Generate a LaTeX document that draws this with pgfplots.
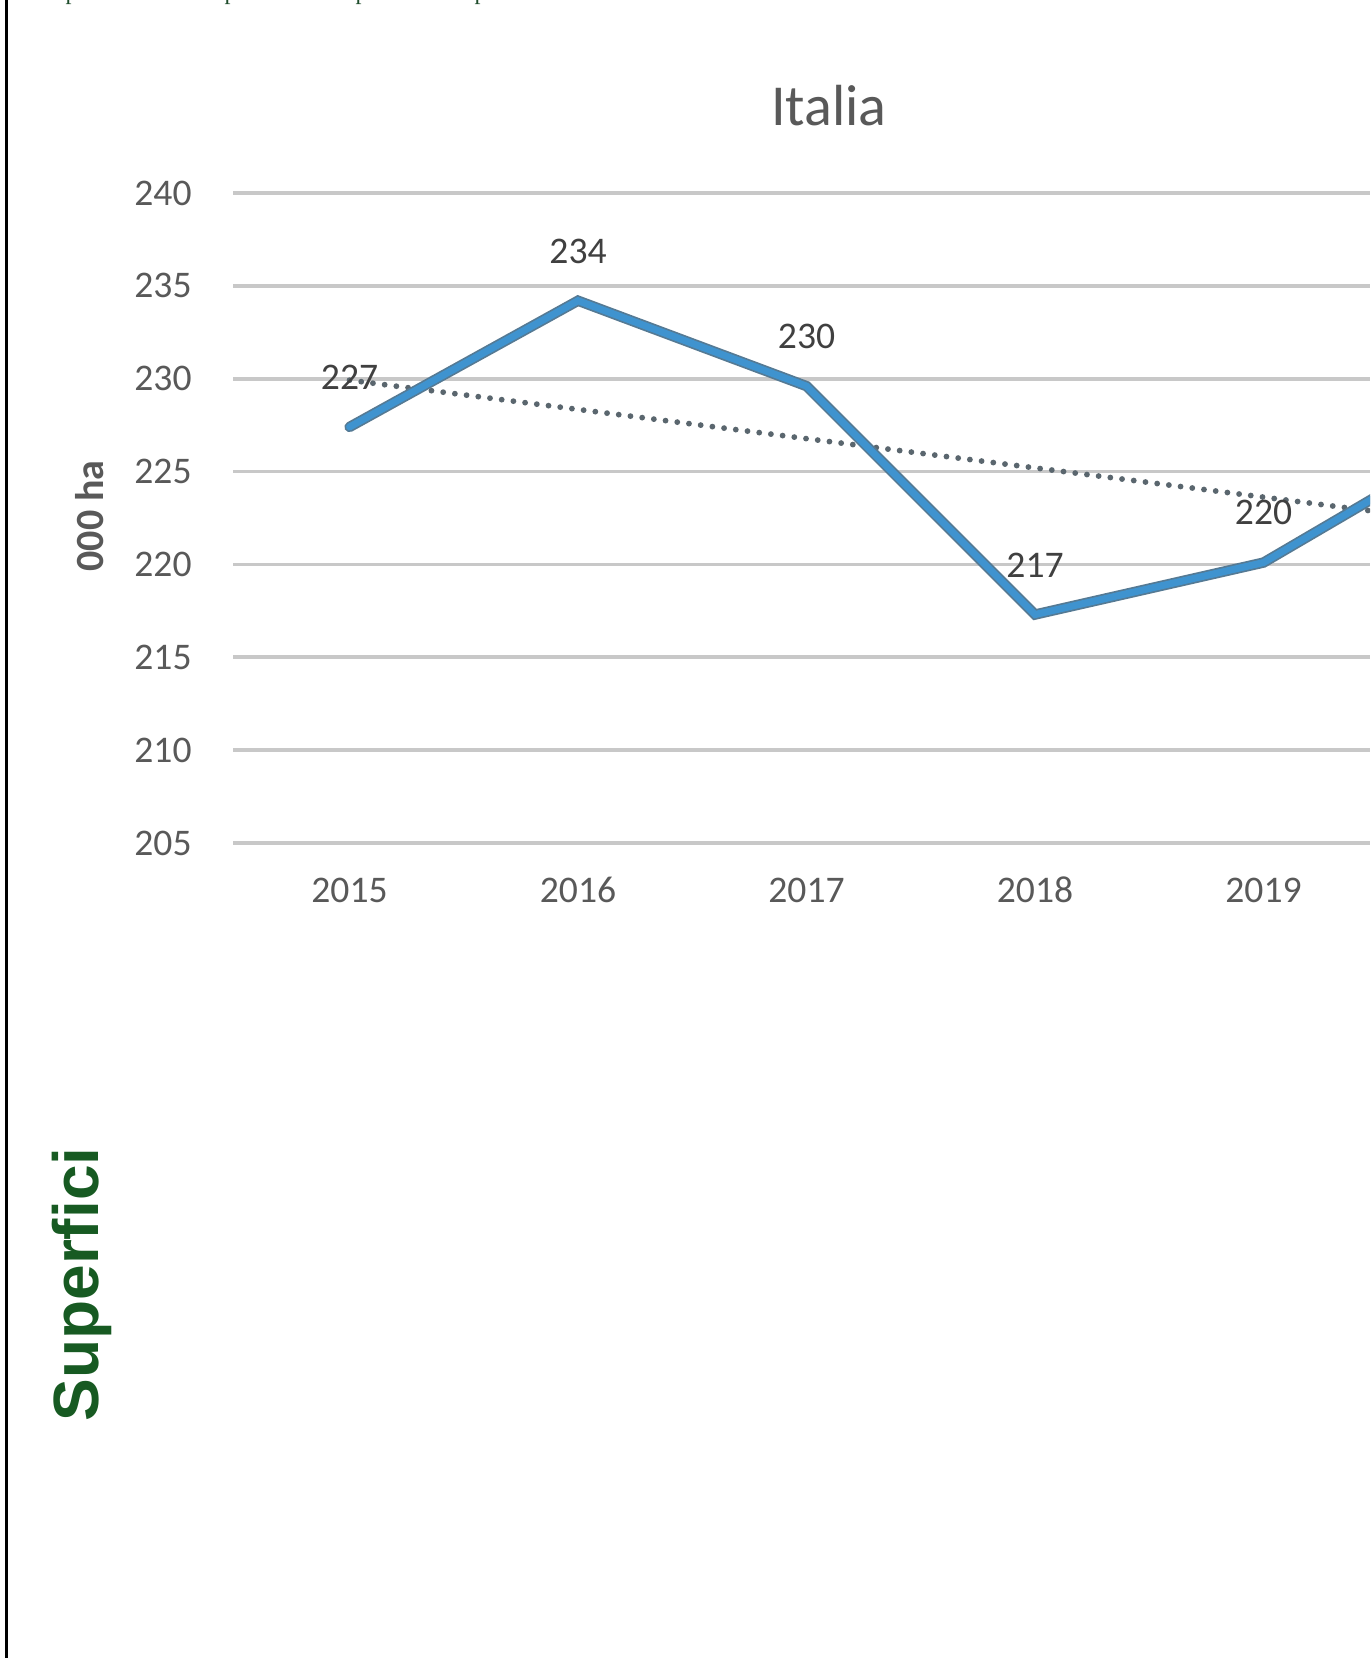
\documentclass[border=0pt]{standalone}
\usepackage{pgfplots}
\usepackage{pgfplotstable}
\pgfplotsset{compat=1.18}
\usepackage{fontspec}
\setmainfont{Carlito}
\newfontfamily\lsans{Liberation Sans}
\newfontfamily\lserif{Liberation Serif}
\definecolor{txtgray}{HTML}{595959}
\definecolor{lblgray}{HTML}{404040}
\definecolor{gridgray}{HTML}{C8C8C8}
\definecolor{lineblue}{HTML}{3F93CF}
\definecolor{lineedge}{HTML}{557A94}
\definecolor{trendgray}{HTML}{5A666E}
\definecolor{dkgreen}{HTML}{175A22}
\definecolor{topgreen}{HTML}{1E4D2B}
\pgfplotstableread{
x v lab
0 227.4 227
1 234.2 234
2 229.6 230
3 217.3 217
4 220.1 220
5 227.3 227
}\data
\pgfplotstableread{
x v lab
0 227.4 227
1 234.2 234
2 229.6 230
3 217.3 217
4 220.1 220
}\labels
\begin{document}
\begin{tikzpicture}
\useasboundingbox[fill=white] (0pt,0pt) rectangle (685pt,829pt);
\begin{axis}[
  at={(116.5pt,407.5pt)}, anchor=south west,
  scale only axis, width=568.5pt, height=325pt,
  xmin=-0.51, xmax=4.466, ymin=205, ymax=240,
  xtick={0,1,2,3,4}, xticklabels={2015,2016,2017,2018,2019},
  ytick={205,210,215,220,225,230,235,240},
  axis line style={draw=none},
  major tick length=0pt,
  ymajorgrids, major grid style={draw=gridgray, line width=1.8pt},
  tick label style={font=\fontsize{18.8pt}{22pt}\selectfont, text=txtgray},
  /pgf/number format/assume math mode=true,
  yticklabel style={anchor=east, inner sep=0pt, xshift=-20.5pt},
  xticklabel style={anchor=base, inner sep=0pt, yshift=-30pt},
]
\addplot[draw=none, mark=none, nodes near coords, point meta=explicit symbolic,
  every node near coord/.append style={anchor=south, inner sep=0pt, yshift=18.5pt,
    font=\fontsize{18.8pt}{22pt}\selectfont, text=lblgray}]
  table[x=x, y=v, meta=lab] {\labels};
\addplot[color=trendgray, line width=2.9pt, line cap=round, dash pattern=on 0pt off 5.9pt, mark=none]
  table[x=x, y={create col/linear regression={y=v}}] {\data};
\addplot[color=lineedge, line width=5.2pt, line join=miter, line cap=round, mark=none]
  table[x=x, y=v] {\data};
\addplot[color=lineblue, line width=3.5pt, line join=miter, line cap=round, mark=none]
  table[x=x, y=v] {\data};
\end{axis}
\node[anchor=base, text=txtgray, font=\fontsize{29pt}{33pt}\selectfont] at (414.5pt,766pt) {Italia};
\node[anchor=base, rotate=90, inner sep=0pt, text=txtgray, font=\fontsize{20pt}{24pt}\selectfont\bfseries] at (51.5pt,571pt) {000 ha};
\node[anchor=base, rotate=90, inner sep=0pt, text=dkgreen, font=\fontsize{32pt}{36pt}\selectfont\lsans\bfseries] at (49pt,186.75pt) {Superfici};
\foreach \px in {32.6,112.1,177.6,237.1} {
  \node[anchor=base west, inner sep=0pt, text=topgreen, font=\fontsize{12pt}{14pt}\selectfont\lserif] at (\px pt,829.3pt) {p};
}
\draw[black, line width=1.3pt] (3.2pt,0pt) -- (3.2pt,829pt);
\end{tikzpicture}
\end{document}
